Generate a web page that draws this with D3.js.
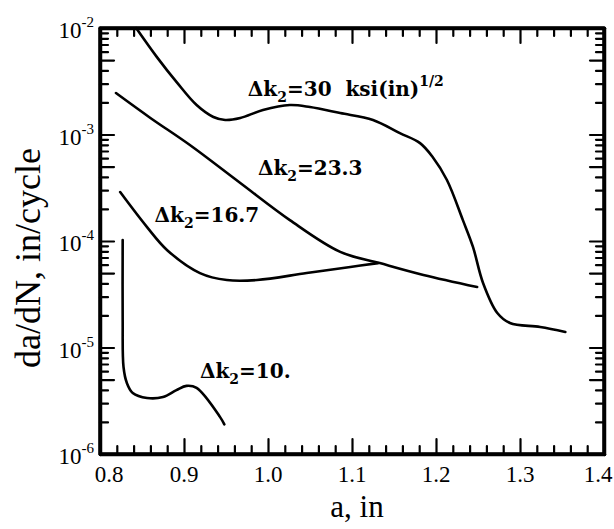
<!DOCTYPE html>
<html><head><meta charset="utf-8">
<script src="https://cdn.jsdelivr.net/npm/d3@7"></script>
<style>body{margin:0;background:#fff}</style>
</head><body><svg id="c" width="614" height="529" xmlns="http://www.w3.org/2000/svg"></svg>
<script>
// ---- data ----
const xTicks = [0.8, 0.9, 1.0, 1.1, 1.2, 1.3, 1.4];
const xTickLabels = ["0.8", "0.9", "1.0", "1.1", "1.2", "1.3", "1.4"];
const yExponents = [-2, -3, -4, -5, -6];
const seriesNames = ["30", "23.3", "16.7", "10."];

const k30 = [[0.843,1.0e-2],[0.868,5.3e-3],[0.892,3.05e-3],[0.915,1.89e-3],[0.935,1.46e-3],
  [0.949,1.37e-3],[0.967,1.43e-3],[0.994,1.70e-3],[1.026,1.89e-3],[1.05,1.81e-3],[1.086,1.59e-3],
  [1.125,1.37e-3],[1.157,1.03e-3],[1.181,8.3e-4],[1.196,6.15e-4],[1.213,3.74e-4],[1.232,1.57e-4],
  [1.244,8.8e-5],[1.256,4.04e-5],[1.273,2.11e-5],[1.288,1.70e-5],[1.324,1.56e-5],[1.354,1.40e-5]];
const k23 = [[0.819,2.45e-3],[0.86,1.43e-3],[0.907,7.96e-4],[0.967,3.5e-4],[1.026,1.57e-4],
  [1.086,7.9e-5],[1.133,6.2e-5],[1.185,4.8e-5],[1.249,3.7e-5]];
const k16 = [[0.824,2.88e-4],[0.856,1.35e-4],[0.880,8.2e-5],[0.919,5.0e-5],[0.951,4.3e-5],
  [0.987,4.3e-5],[1.046,5.0e-5],[1.098,5.7e-5],[1.131,6.2e-5]];
const k10 = [[0.827,1.02e-4],[0.827,1.81e-5],[0.828,6.56e-6],[0.832,4.64e-6],[0.839,3.74e-6],
  [0.856,3.36e-6],[0.875,3.43e-6],[0.891,3.98e-6],[0.903,4.36e-6],[0.915,4.17e-6],
  [0.943,2.22e-6],[0.948,1.9e-6]];
const labelPos = [[0.976,2.3e-3],[0.988,4.17e-4],[0.865,1.5e-4],[0.919,5.2e-6]];

// ---- layout ----
const L = 100, R = 604, T = 28, B = 454;
const svg = d3.select("#c");
const x = d3.scaleLinear().domain([0.8, 1.4]).range([L, R]);
const y = d3.scaleLog().domain([1e-6, 1e-2]).range([B, T]);

const xMinor = d3.range(0, 31).map(i => +(0.8 + i*0.02).toFixed(2))
  .filter(v => !xTicks.some(t => Math.abs(t-v) < 1e-9));
const yMajor = yExponents.map(e => Math.pow(10, e)).concat([-6,-5,-4,-3].map(e => 5*Math.pow(10,e)));
const yMinor = [];
[-6,-5,-4,-3].forEach(e => [2,3,4,6,7,8,9].forEach(m => yMinor.push(m*Math.pow(10,e))));

// axes: inward ticks, domain lines form the frame
function addAxis(gen, tr, keepDomain) {
  const g = svg.append("g").attr("transform", tr).call(gen);
  g.attr("fill", null).attr("font-size", null).attr("font-family", null);
  g.selectAll("text").remove();
  g.selectAll(".tick line").attr("stroke","#000").attr("stroke-width",2.2)
    .attr("stroke-linecap","round").attr("opacity",1);
  if (keepDomain) g.select(".domain").attr("stroke","#000").attr("stroke-width",3.5)
    .attr("stroke-linecap","round").attr("fill","none");
  else g.select(".domain").remove();
}
addAxis(d3.axisBottom(x).tickValues(xTicks).tickSizeInner(-15).tickSizeOuter(0), `translate(0,${B})`, true);
addAxis(d3.axisBottom(x).tickValues(xMinor).tickSizeInner(-8).tickSizeOuter(0), `translate(0,${B})`, false);
addAxis(d3.axisTop(x).tickValues(xTicks).tickSizeInner(-15).tickSizeOuter(0), `translate(0,${T})`, true);
addAxis(d3.axisTop(x).tickValues(xMinor).tickSizeInner(-8).tickSizeOuter(0), `translate(0,${T})`, false);
addAxis(d3.axisLeft(y).tickValues(yMajor).tickSizeInner(-14).tickSizeOuter(0), `translate(${L},0)`, true);
addAxis(d3.axisLeft(y).tickValues(yMinor).tickSizeInner(-8).tickSizeOuter(0), `translate(${L},0)`, false);
addAxis(d3.axisRight(y).tickValues(yMajor).tickSizeInner(-14).tickSizeOuter(0), `translate(${R},0)`, true);
addAxis(d3.axisRight(y).tickValues(yMinor).tickSizeInner(-8).tickSizeOuter(0), `translate(${R},0)`, false);

// frame, drawn like the data lines
const frameLine = d3.line().curve(d3.curveLinear);
const cg = svg.append("g");
cg.append("path").datum([[x(0.8), y(1e-2)], [x(1.4), y(1e-2)], [x(1.4), y(1e-6)], [x(0.8), y(1e-6)], [x(0.8), y(1e-2)]])
  .attr("d", frameLine)
  .attr("fill","none").attr("stroke","#000").attr("stroke-width",3.5).attr("stroke-linecap","round")
  .attr("stroke-linejoin","round");

// x tick labels
svg.append("g").selectAll("text").data(xTicks).join("text")
  .attr("x", (d,i) => x(d) + (i===0 ? 9 : i===xTicks.length-1 ? -6 : 0))
  .attr("y", B + 28)
  .attr("text-anchor","middle")
  .attr("font-family","Liberation Serif")
  .attr("font-size",23)
  .text((d,i) => xTickLabels[i]);

// y tick labels
const yl = svg.append("g").selectAll("text").data(yExponents).join("text")
  .attr("x", L - 6).attr("y", d => y(Math.pow(10,d)) + 10)
  .attr("text-anchor","end")
  .attr("font-family","Liberation Serif")
  .attr("font-size",23);
yl.append("tspan").text("10");
yl.append("tspan").attr("dy",-11).attr("font-size",15).text(d => String(d));

// axis titles
svg.append("text").attr("x", 357).attr("y", 517).attr("text-anchor","middle")
  .attr("font-family","Liberation Serif").attr("font-size",31)
  .text("a, in");
svg.append("text").attr("transform", `translate(40,258) rotate(-90)`)
  .attr("text-anchor","middle")
  .attr("font-family","Liberation Serif").attr("font-size",36)
  .text("da/dN, in/cycle");

// curves
const line = d3.line().x(d => x(d[0])).y(d => y(d[1])).curve(d3.curveCatmullRom.alpha(0.5));
[k30, k23, k16, k10].forEach(s => {
  cg.append("path").datum(s).attr("d", line)
    .attr("fill","none").attr("stroke","#000").attr("stroke-width",2.6).attr("stroke-linecap","round");
});

// curve labels
seriesNames.forEach((name, i) => {
  const t = svg.append("text").attr("x", x(labelPos[i][0])).attr("y", y(labelPos[i][1]))
    .attr("font-family","DejaVu Serif").attr("font-weight","bold").attr("font-size",20);
  t.append("tspan").text("\u0394k");
  t.append("tspan").attr("dy",6).attr("font-size",14).text("2");
  t.append("tspan").attr("dy",-6).text("=" + name);
  if (i === 0) {
    t.append("tspan").text("\u00a0\u00a0ksi(in)");
    t.append("tspan").attr("dy",-10).attr("font-size",14).text("1/2");
  }
});
</script></body></html>
